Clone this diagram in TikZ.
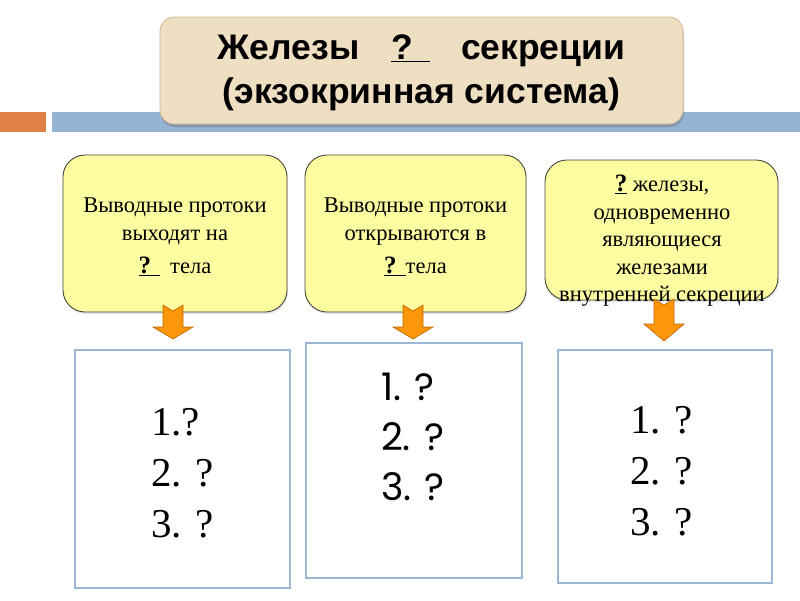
\documentclass[tikz,border=0pt]{standalone}
\usepackage{fontspec}
\setmainfont{Liberation Serif}
\newfontfamily\titlefont{Liberation Sans}
\newfontfamily\gothfont{Poppins}
\usetikzlibrary{shadows}
\definecolor{titlefill}{RGB}{238,222,194}
\definecolor{titleedge}{RGB}{205,185,150}
\definecolor{barorange}{RGB}{224,128,72}
\definecolor{barblue}{RGB}{149,179,211}
\definecolor{yfill}{RGB}{253,252,160}
\definecolor{yedge}{RGB}{70,70,60}
\definecolor{wedge}{RGB}{155,183,212}
\definecolor{arrfill}{RGB}{252,150,10}
\definecolor{arredge}{RGB}{190,100,0}
\tikzset{
  titlebox/.style={draw=titleedge, fill=titlefill, rounded corners=14pt, line width=0.8pt,
    minimum width=523pt, minimum height=107pt, inner sep=0pt,
    drop shadow={shadow xshift=1pt, shadow yshift=-3pt, opacity=0.35, fill=black!60}},
  ybox/.style={draw=yedge, fill=yfill, rounded corners=22pt, line width=0.9pt, inner sep=0pt,
    drop shadow={shadow xshift=1pt, shadow yshift=-2pt, opacity=0.2, fill=black!50}},
  ytext/.style={align=center, inner sep=0pt, font=\fontsize{22.5}{27.5}\selectfont},
  wbox/.style={draw=wedge, fill=white, line width=1.5pt, inner sep=0pt},
  listtext/.style={align=left, inner sep=0pt},
  orarr/.style={fill=arrfill, draw=arredge, line width=0.6pt, line join=miter}
}
\newcommand\qmark[1]{{\bfseries\fontsize{25}{25}\selectfont\underline{?#1}}}
\begin{document}
\begin{tikzpicture}[x=1pt,y=-1pt]
\useasboundingbox (0,0) rectangle (800,600);
% header bars
\fill[barorange] (0,112) rectangle (46,132);
\fill[barblue] (52,112) rectangle (800,132);
% title
\node[titlebox] (title) at (421.5,70.5) {};
\node[align=center, inner sep=0pt, font=\titlefont\bfseries\fontsize{35.5}{44}\selectfont] (titletext) at (421.5,73)
  {Железы\hspace{32pt}\underline{?\hspace{17pt}}\hspace{31pt}секреции\\(экзокринная система)};
% yellow boxes
\node[ybox, minimum width=224pt, minimum height=157pt] (y1) at (175,233.5) {};
\node[ybox, minimum width=221pt, minimum height=157pt] (y2) at (415.5,233.5) {};
\node[ybox, minimum width=233pt, minimum height=140pt] (y3) at (661.5,230) {};
\node[ytext] (t1) at (175,237) {Выводные протоки\\выходят на\\[6pt]\qmark{\hspace{9pt}}\hspace{10pt}тела};
\node[ytext] (t2) at (415.5,237) {Выводные протоки\\открываются в\\[6pt]\qmark{\hspace{9pt}}тела};
\node[ytext] (t3) at (662,241) {\qmark{} железы,\\одновременно\\являющиеся\\железами\\внутренней секреции};
% arrows
\draw[orarr] (163,305) -- (173,311) -- (183,305) -- (183,327) -- (193,327) -- (173,339) -- (153,327) -- (163,327) -- cycle;
\draw[orarr] (403,305) -- (413,311) -- (423,305) -- (423,327) -- (433,327) -- (413,339) -- (393,327) -- (403,327) -- cycle;
\draw[orarr] (654,299) -- (664,305) -- (674,299) -- (674,324) -- (684,324) -- (664,341) -- (644,324) -- (654,324) -- cycle;
% white boxes
\node[wbox, minimum width=215pt, minimum height=238pt] (w1) at (182.5,469) {};
\node[wbox, minimum width=216pt, minimum height=235pt] (w2) at (414,460.5) {};
\node[wbox, minimum width=214pt, minimum height=233pt] (w3) at (665,466.5) {};
\node[listtext, font=\fontsize{41}{51}\selectfont] (l1) at (182.5,473) {1.?\\2. ?\\3. ?};
\node[listtext, font=\gothfont\fontsize{38}{50}\selectfont] (l2) at (413,437) {1. ?\\2. ?\\3. ?};
\node[listtext, font=\fontsize{41}{51}\selectfont] (l3) at (661.5,471) {1. ?\\2. ?\\3. ?};
\end{tikzpicture}
\end{document}
